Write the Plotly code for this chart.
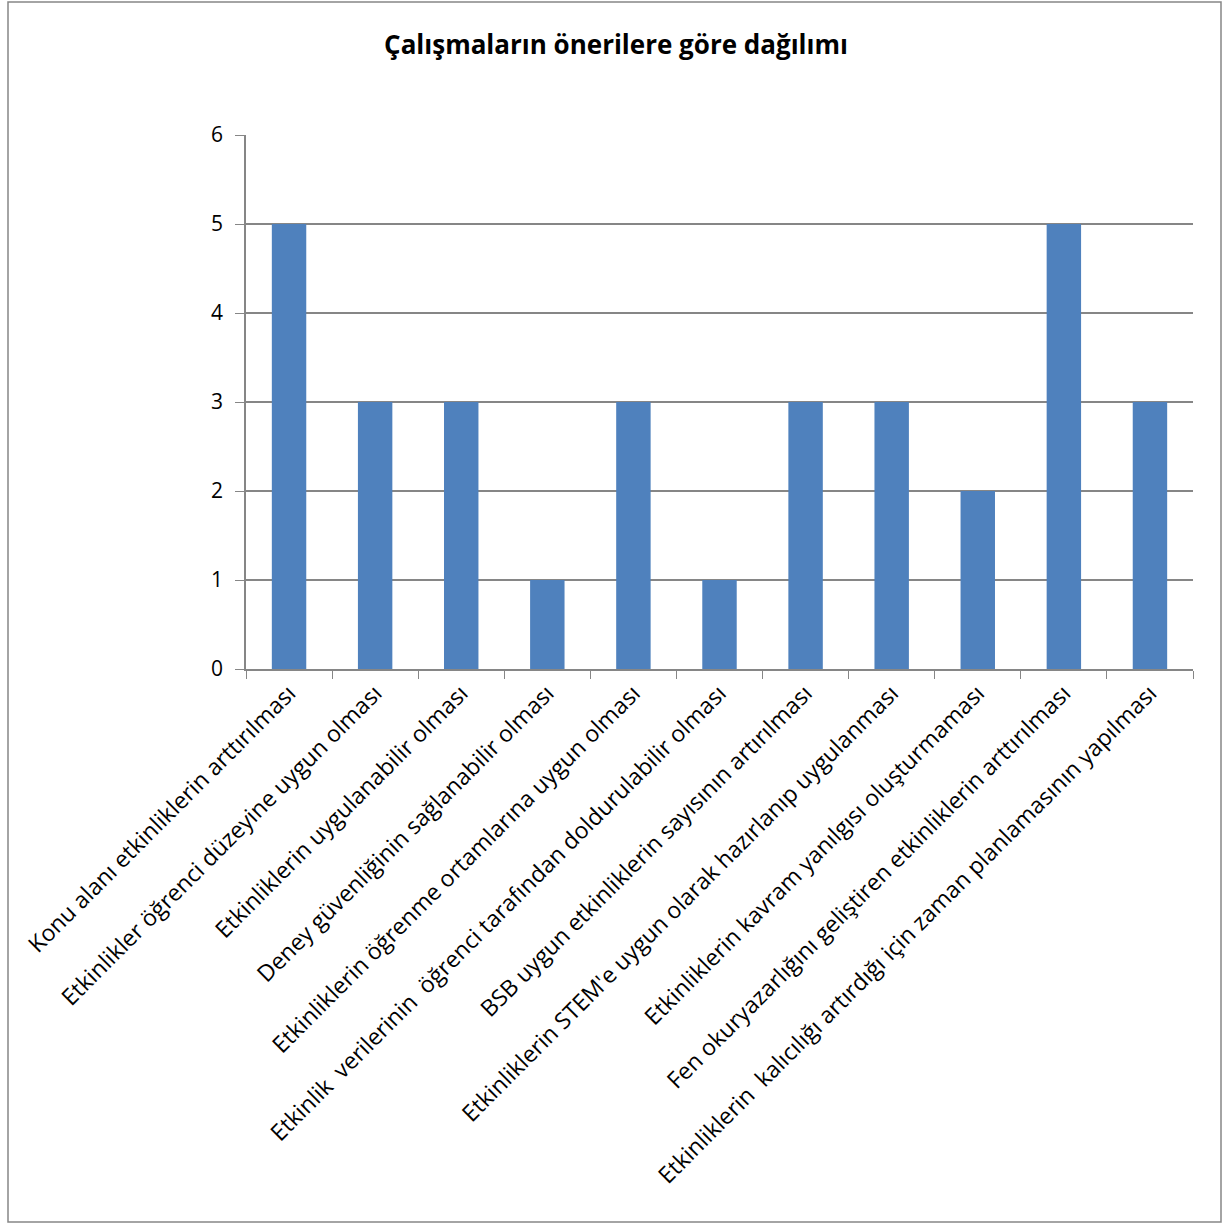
import plotly.graph_objects as go

categories = [
    "Konu alanı etkinliklerin arttırılması",
    "Etkinlikler öğrenci düzeyine uygun olması",
    "Etkinliklerin uygulanabilir olması",
    "Deney güvenliğinin sağlanabilir olması",
    "Etkinliklerin öğrenme ortamlarına uygun olması",
    "Etkinlik  verilerinin  öğrenci tarafından doldurulabilir olması",
    "BSB uygun etkinliklerin sayısının artırılması",
    "Etkinliklerin STEM'e uygun olarak hazırlanıp uygulanması",
    "Etkinliklerin kavram yanılgısı oluşturmaması",
    "Fen okuryazarlığını geliştiren etkinliklerin arttırılması",
    "Etkinliklerin  kalıcılığı artırdığı için zaman planlamasının yapılması",
]
values = [5, 3, 3, 1, 3, 1, 3, 3, 2, 5, 3]
y_ticks = [0, 1, 2, 3, 4, 5, 6]

title = "Çalışmaların önerilere göre dağılımı"

FONT = "Open Sans"

fig = go.Figure(
    go.Bar(
        x=categories,
        y=values,
        marker=dict(color="#4F81BD", line=dict(width=0)),
        width=0.4,
        hoverinfo="x+y",
    )
)

fig.update_layout(
    width=1223,
    height=1224,
    paper_bgcolor="white",
    plot_bgcolor="white",
    showlegend=False,
    margin=dict(l=246, r=30, t=135, b=555, autoexpand=False),
    title=dict(
        text=f"<b>{title}</b>",
        x=616 / 1223,
        xref="container",
        xanchor="center",
        y=1 - 45 / 1224,
        yref="container",
        yanchor="middle",
        font=dict(family=FONT, size=26, color="black"),
    ),
    font=dict(family=FONT, color="black"),
    bargap=0.6,
)

fig.update_xaxes(
    type="category",
    tickangle=-45,
    tickfont=dict(family=FONT, size=23, color="black"),
    showline=True,
    linecolor="#868686",
    linewidth=1.5,
    ticks="outside",
    tickson="boundaries",
    ticklen=8,
    tickcolor="#868686",
    showgrid=False,
    automargin=False,
)

fig.update_yaxes(
    range=[0, 6],
    tickvals=y_ticks,
    tickfont=dict(family=FONT, size=21, color="black"),
    showline=True,
    linecolor="#868686",
    linewidth=1.5,
    ticks="outside",
    ticklen=9,
    tickcolor="#868686",
    ticklabelstandoff=8,
    showgrid=True,
    gridcolor="#868686",
    gridwidth=1.5,
    zeroline=False,
    automargin=False,
)

# outer chart border
fig.add_shape(
    type="rect",
    xref="paper",
    yref="paper",
    x0=(8 - 246) / 947,
    x1=(1221 - 246) / 947,
    y0=-(1222 - 669) / 534,
    y1=1 + (135 - 2) / 534,
    line=dict(color="#868686", width=1.5),
    fillcolor="rgba(0,0,0,0)",
    layer="below",
)

fig.write_html(
    "out.html",
    config={"displayModeBar": False},
    post_script="document.body.style.margin='0';document.body.style.overflow='hidden';",
)
